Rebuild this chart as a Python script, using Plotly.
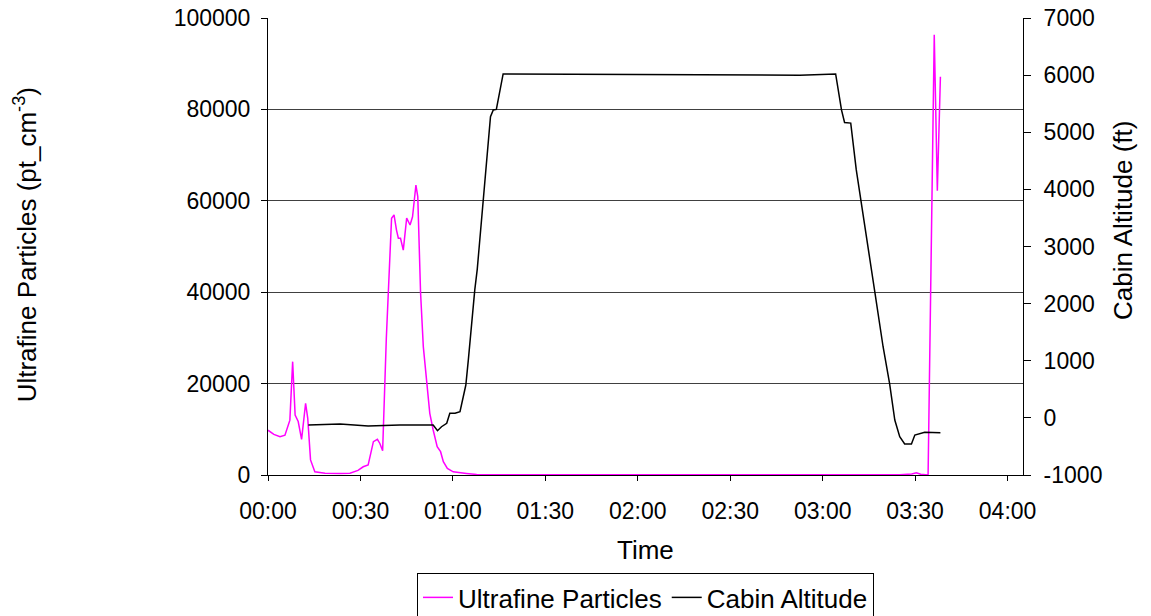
import plotly.graph_objects as go

# Time in minutes since 00:00
ufp_time = [0.0, 1.9, 3.9, 5.5, 7.1, 8.0, 8.8, 9.8, 10.9, 12.2, 12.9, 13.8, 15.2, 18.5, 23.4,
            26.6, 29.2, 30.9, 32.5, 34.2, 35.5, 36.3, 37.2, 38.4, 40.1, 40.9, 41.7, 42.3, 43.0,
            43.9, 45.0, 46.1, 46.9, 47.4, 48.0, 48.6, 49.1, 49.5, 50.4, 51.5, 52.5, 53.6, 54.9,
            56.0, 56.9, 58.2, 60.1, 64.4, 67.7, 75.2, 107.7, 140.1, 172.5, 205.0, 208.9, 210.4,
            211.8, 214.2, 216.2, 217.2, 218.2]
ufp_values = [9800, 8900, 8400, 8700, 12000, 24800, 13100, 11700, 7800, 15700, 12400, 3300, 700,
              400, 350, 400, 1000, 1800, 2200, 7300, 7800, 6900, 5300, 30000, 56200, 56900, 53600,
              51800, 51800, 49200, 56200, 54700, 56500, 59450, 63450, 60900, 48500, 40000, 28100,
              20000, 13500, 9850, 6200, 5100, 2900, 1450, 700, 350, 100, 50, 30, 20, 30, 50, 200,
              500, 150, 0, 96350, 62200, 87150]

alt_time = [13.1, 23.4, 32.5, 42.8, 53.6, 55.0, 56.3, 58.0, 59.0, 60.7, 62.3, 63.3, 64.2, 65.0,
            66.1, 67.1, 67.9, 69.8, 71.4, 72.2, 73.1, 74.1, 76.3, 107.7, 140.1, 172.5, 184.2,
            185.3, 186.1, 187.1, 189.1, 190.9, 192.5, 195.0, 196.9, 199.6, 201.7, 203.4, 205.0,
            206.6, 208.8, 209.9, 210.9, 213.1, 218.2]
alt_values = [-125, -107, -142, -125, -125, -225, -155, -95, 80, 80, 110, 370, 575, 1010, 1715,
              2240, 2600, 3814, 4806, 5272, 5390, 5400, 6020, 6010, 6000, 6000, 6020, 5680, 5390,
              5170, 5160, 4340, 3785, 2940, 2210, 1245, 605, -37, -330, -457, -457, -300, -282,
              -253, -260]

x_tickvals = [0, 30, 60, 90, 120, 150, 180, 210, 240]
x_ticktext = ["00:00", "00:30", "01:00", "01:30", "02:00", "02:30", "03:00", "03:30", "04:00"]
y_tickvals = [0, 20000, 40000, 60000, 80000, 100000]
y2_tickvals = [-1000, 0, 1000, 2000, 3000, 4000, 5000, 6000, 7000]
y2_ticktext = ["-1000", "0", "1000", "2000", "3000", "4000", "5000", "6000", "7000"]

FONT = "Liberation Sans, Arial, sans-serif"
TICK_SIZE = 23
TITLE_SIZE = 26

fig = go.Figure()
fig.add_trace(go.Scatter(x=ufp_time, y=ufp_values, mode="lines", name="Ultrafine Particles",
                         line=dict(color="#FF00FF", width=1.5)))
fig.add_trace(go.Scatter(x=alt_time, y=alt_values, mode="lines", name="Cabin Altitude",
                         line=dict(color="#000000", width=1.5), yaxis="y2"))

fig.update_layout(
    width=1151, height=616,
    margin=dict(l=268, r=128, t=18, b=141, autoexpand=False),
    paper_bgcolor="white", plot_bgcolor="white",
    font=dict(family=FONT, size=TICK_SIZE, color="black"),
    showlegend=True,
    legend=dict(orientation="h", x=0.5, xanchor="center", y=-0.2144, yanchor="top",
                bordercolor="black", borderwidth=1, font=dict(size=TITLE_SIZE),
                itemwidth=30, tracegroupgap=0),
    xaxis=dict(range=[0, 245], tickvals=x_tickvals, ticktext=x_ticktext,
               showline=True, linecolor="black", linewidth=1, ticks="outside",
               ticklen=5, tickcolor="black", showgrid=False, zeroline=False,
               ticklabelstandoff=10),
    yaxis=dict(range=[0, 100000], tickvals=y_tickvals, tickformat="d",
               showline=True, linecolor="black", linewidth=1, ticks="outside",
               ticklen=6, tickcolor="black", showgrid=True, gridcolor="#404040",
               gridwidth=1, zeroline=False, ticklabelstandoff=6),
    yaxis2=dict(range=[-1000, 7000], tickvals=y2_tickvals, ticktext=y2_ticktext,
                overlaying="y", side="right", showline=True, linecolor="black",
                linewidth=1, ticks="outside", ticklen=7, tickcolor="black",
                showgrid=False, zeroline=False, ticklabelstandoff=8),
    annotations=[
        dict(text="Time", xref="paper", yref="paper", x=0.5, y=-0.164,
             xanchor="center", yanchor="middle", showarrow=False,
             font=dict(size=TITLE_SIZE)),
        dict(text="Ultrafine Particles (pt_cm<sup>-3</sup>)", textangle=-90,
             xref="paper", yref="paper", x=-0.3216, y=0.503, xanchor="center",
             yanchor="middle", showarrow=False, font=dict(size=TITLE_SIZE)),
        dict(text="Cabin Altitude (ft)", textangle=-90,
             xref="paper", yref="paper", x=1.1325, y=0.556, xanchor="center",
             yanchor="middle", showarrow=False, font=dict(size=TITLE_SIZE)),
    ],
)

fig.write_html("out.html", config={"displayModeBar": False},
               post_script="document.body.style.margin='0';")
